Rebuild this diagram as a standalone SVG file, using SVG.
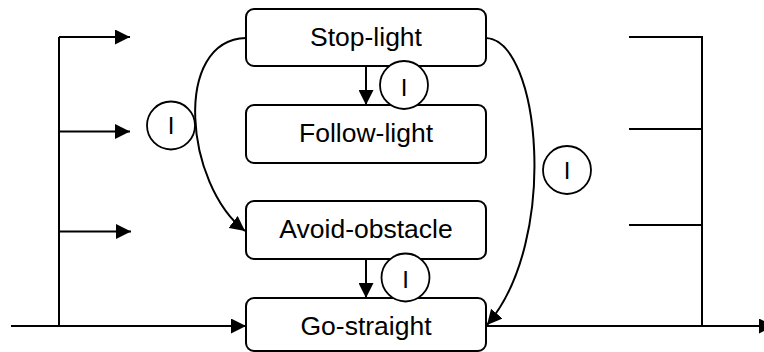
<svg xmlns="http://www.w3.org/2000/svg" width="764" height="352" viewBox="0 0 764 352">
  <defs>
    <marker id="head" viewBox="0 0 15 15" refX="15" refY="7.5" markerWidth="15" markerHeight="15" markerUnits="userSpaceOnUse" orient="auto">
      <path d="M0,0 L15,7.5 L0,15 z" fill="#000"/>
    </marker>
    <style>
      .box { fill: #fff; stroke: #000; stroke-width: 2; }
      .lbl { font-family: "Liberation Sans", Arial, sans-serif; font-size: 26.5px; fill: #000; text-anchor: middle; }
      .inh { fill: #fff; stroke: #000; stroke-width: 1.8; }
      .inh-t { font-family: "Liberation Sans", Arial, sans-serif; font-size: 24px; fill: #000; text-anchor: middle; }
      .wire { fill: none; stroke: #000; stroke-width: 2; }
      .arrow { fill: none; stroke: #000; stroke-width: 2; marker-end: url(#head); }
    </style>
  </defs>

  <!-- connectors -->
  <g id="connectors">
    <!-- sensor bus on the left -->
    <path class="wire" d="M59,37 V326"/>
    <path class="arrow" d="M59,37 H130"/>
    <path class="arrow" d="M59,131.5 H130"/>
    <path class="arrow" d="M59,231.5 H131"/>
    <path class="arrow" d="M11,326 H246"/>
    <!-- inhibition chain -->
    <path class="arrow" d="M366,66 V105"/>
    <path class="arrow" d="M366,259 V298"/>
    <path class="arrow" d="M246,38 C172,40 185,185 245,231"/>
    <path class="arrow" d="M486,38 C540,40 560,240 487,325"/>
    <!-- output bus on the right -->
    <path class="wire" d="M629,37 H702 V326"/>
    <path class="wire" d="M629,129 H702"/>
    <path class="wire" d="M629,225 H702"/>
    <path class="arrow" d="M486,326 H774"/>
  </g>

  <!-- behaviours -->
  <g id="stop-light">
    <rect class="box" x="246" y="9" width="240" height="57" rx="8"/>
    <text class="lbl" x="366" y="46">Stop-light</text>
  </g>
  <g id="follow-light">
    <rect class="box" x="246" y="105" width="240" height="58" rx="8"/>
    <text class="lbl" x="366" y="142">Follow-light</text>
  </g>
  <g id="avoid-obstacle">
    <rect class="box" x="246" y="201" width="240" height="58" rx="8"/>
    <text class="lbl" x="366" y="238">Avoid-obstacle</text>
  </g>
  <g id="go-straight">
    <rect class="box" x="246" y="298" width="240" height="53" rx="8"/>
    <text class="lbl" x="366" y="335">Go-straight</text>
  </g>

  <!-- inhibition nodes -->
  <g id="inhibit-top">
    <circle class="inh" cx="404" cy="85" r="24"/>
    <text class="inh-t" x="404" y="96">I</text>
  </g>
  <g id="inhibit-left">
    <circle class="inh" cx="171" cy="125.5" r="24"/>
    <text class="inh-t" x="171" y="134">I</text>
  </g>
  <g id="inhibit-bottom">
    <circle class="inh" cx="405.5" cy="277.5" r="24"/>
    <text class="inh-t" x="405.5" y="288">I</text>
  </g>
  <g id="inhibit-right">
    <circle class="inh" cx="567" cy="170" r="24"/>
    <text class="inh-t" x="567" y="179">I</text>
  </g>
</svg>
